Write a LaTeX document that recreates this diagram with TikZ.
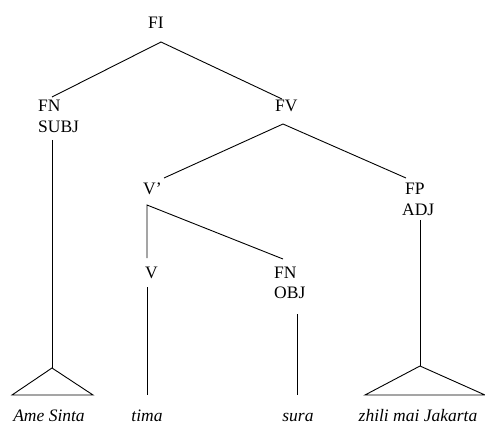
\documentclass[tikz,border=0pt]{standalone}
\usepackage{fontspec}
\setmainfont{Liberation Serif}
\begin{document}
\begin{tikzpicture}[x=1pt,y=-1pt,
  lab/.style={inner sep=0pt,anchor=base west,font=\fontsize{17.5}{21}\selectfont},
  leaf/.style={inner sep=0pt,anchor=base,font=\fontsize{17.5}{21}\selectfont\itshape},
  edge/.style={line width=0.9pt,line cap=butt}]
\useasboundingbox (0,0) rectangle (485,425);
% labels
\node[lab] (FI) at (148,29) {FI};
\node[lab] (FN) at (38,112) {FN};
\node[lab] (SUBJ) at (38,133) {SUBJ};
\node[lab] (FV) at (275,112) {FV};
\node[lab] (Vb) at (143,194) {V'};
\node[lab] (FP) at (405,194) {FP};
\node[lab] (ADJ) at (402,215) {ADJ};
\node[lab] (V) at (145,278) {V};
\node[lab] (FNo) at (274,278) {FN};
\node[lab] (OBJ) at (274,298) {OBJ};
% leaves
\node[leaf] (l1) at (49,421) {Ame Sinta};
\node[leaf] (l2) at (147,421) {tima};
\node[leaf] (l3) at (298,421) {sura};
\node[leaf] (l4) at (418,421) {zhili mai Jakarta};
% connector points
\coordinate (FIb) at (161,42);
\coordinate (FNt) at (52,97);
\coordinate (FVt) at (282,99);
\coordinate (FVb) at (283,124);
\coordinate (Vbt) at (164,178);
\coordinate (FPt) at (406,178);
\coordinate (SUBJb) at (52,140);
\coordinate (SUBJa) at (52,368);
\coordinate (Vbb) at (147,205);
\coordinate (Vt) at (147,258);
\coordinate (FNot) at (283,259);
\coordinate (Vb2) at (147,287);
\coordinate (l2t) at (147,395);
\coordinate (OBJb) at (297,314);
\coordinate (l3t) at (297,395);
\coordinate (ADJb) at (420,220);
\coordinate (ADJa) at (420,366);
\coordinate (T1l) at (12,395);
\coordinate (T1r) at (93,395);
\coordinate (T2l) at (365,395);
\coordinate (T2r) at (485,395);
% edges
\draw[edge] (FNt) -- (FIb) -- (FVt);
\draw[edge] (Vbt) -- (FVb) -- (FPt);
\draw[edge] (SUBJb) -- (SUBJa);
\draw[edge] (Vt) -- (Vbb) -- (FNot);
\draw[edge] (Vb2) -- (l2t);
\draw[edge] (OBJb) -- (l3t);
\draw[edge] (ADJb) -- (ADJa);
\draw[edge,line join=miter] (SUBJa) -- (T1l) -- (T1r) -- cycle;
\draw[edge,line join=miter] (ADJa) -- (T2l) -- (T2r) -- cycle;
\end{tikzpicture}
\end{document}
